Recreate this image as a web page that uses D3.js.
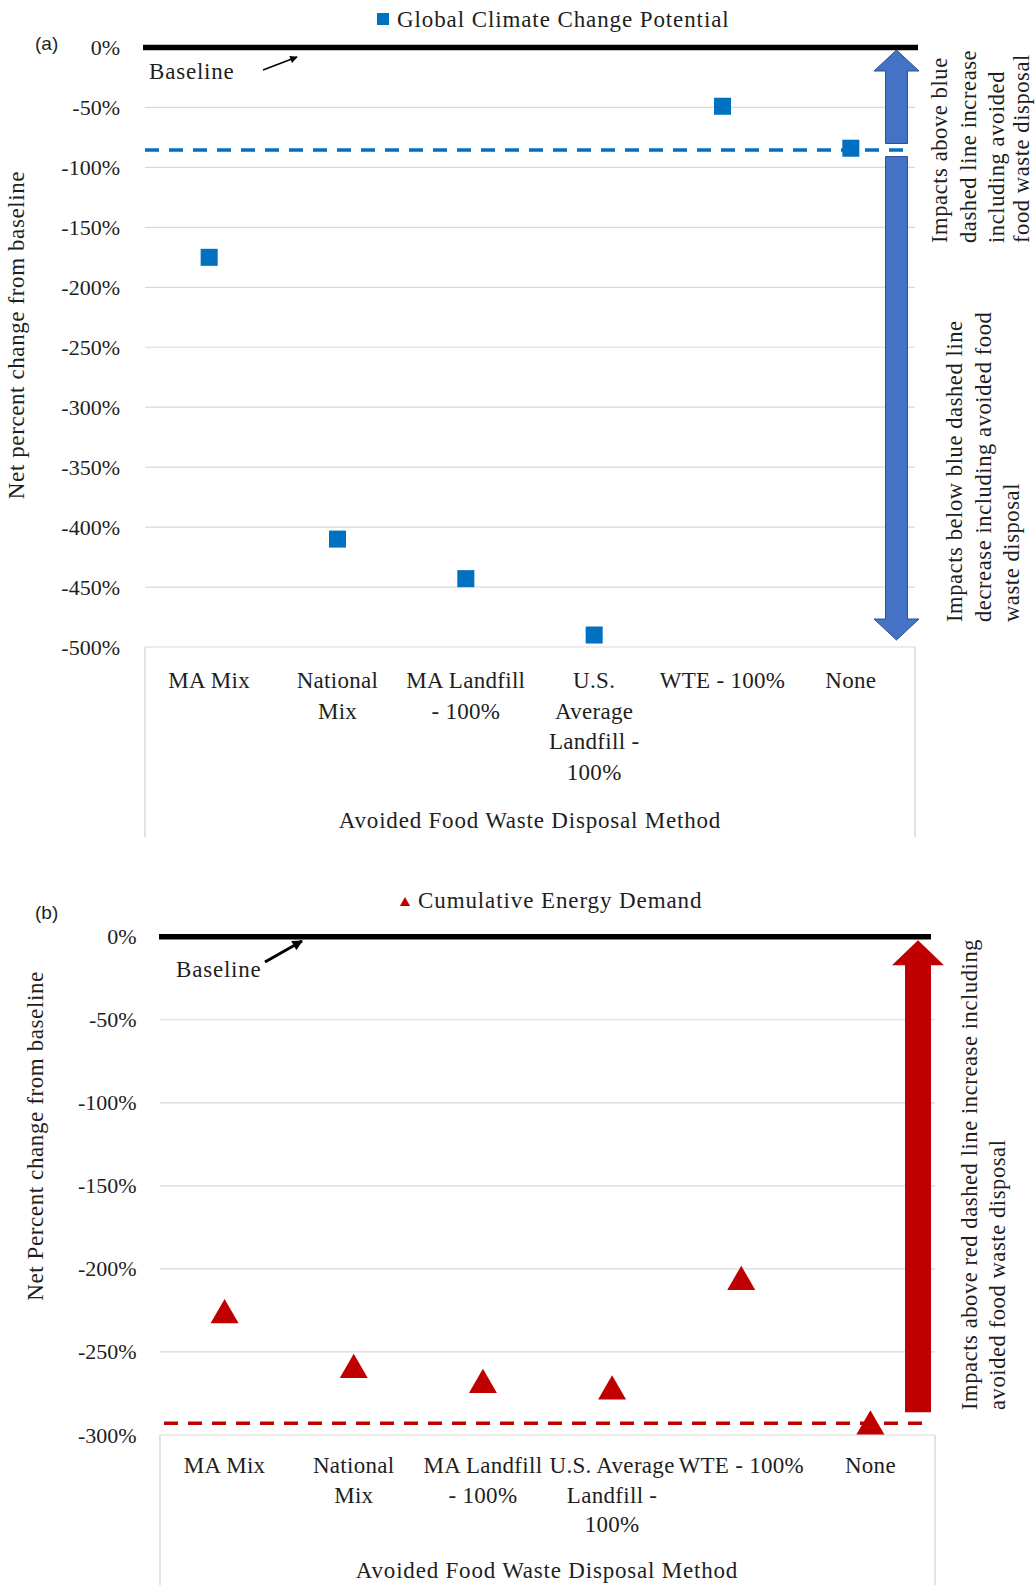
<!DOCTYPE html>
<html>
<head>
<meta charset="utf-8">
<script src="https://cdn.jsdelivr.net/npm/d3@7"></script>
<style>
  body { margin: 0; background: #fff; }
  text { font-family: "Liberation Serif", "Times New Roman", serif; fill: #1e1e1e; }
</style>
</head>
<body>
<div id="chart"></div>
<script>
// categories (line breaks as shown on the axis)
const gccCategories = [["MA Mix"], ["National", "Mix"], ["MA Landfill", "- 100%"], ["U.S.", "Average", "Landfill -", "100%"], ["WTE - 100%"], ["None"]];
const cedCategories = [["MA Mix"], ["National", "Mix"], ["MA Landfill", "- 100%"], ["U.S. Average", "Landfill -", "100%"], ["WTE - 100%"], ["None"]];

// net percent change from baseline
const gccValues = [-175, -410, -443, -490, -49, -84];
const cedValues = [-226, -259, -268, -272, -206, -293];

// dashed reference lines (no avoided disposal)
const gccDashed = -85.5;
const cedDashed = -293;

const gccTicks = [0, -50, -100, -150, -200, -250, -300, -350, -400, -450, -500];
const cedTicks = [0, -50, -100, -150, -200, -250, -300];

const gccUpText = ["Impacts above blue", "dashed line  increase", "including avoided", "food waste disposal"];
const gccDownText = ["Impacts below blue dashed line", "decrease including avoided food", "waste disposal"];
const cedUpText = ["Impacts above red dashed line  increase including", "avoided food waste disposal"];

const svg = d3.select('#chart')
    .append('svg')
    .attr('width', 1036)
    .attr('height', 1585);

const defs = svg.append('defs');
[['thin', 7, 5], ['thick', 4.5, 3.5]].forEach(([id, w, h]) => {
    defs.append('marker')
        .attr('id', 'head-' + id)
        .attr('viewBox', '0 0 10 10')
        .attr('refX', 9).attr('refY', 5)
        .attr('markerUnits', 'strokeWidth')
        .attr('markerWidth', w).attr('markerHeight', h)
        .attr('orient', 'auto')
        .append('path')
        .attr('d', 'M0,0 L10,5 L0,10 Z')
        .attr('fill', '#000');
});

function arrowPath(cx, tip, base, end, shaftW, headW) {
    // tip -> head base -> shaft end, works up or down
    return d3.line()([
        [cx, tip], [cx + headW / 2, base], [cx + shaftW / 2, base], [cx + shaftW / 2, end],
        [cx - shaftW / 2, end], [cx - shaftW / 2, base], [cx - headW / 2, base]
    ]) + 'Z';
}

function rotatedLines(g, lines, xs, yStart) {
    lines.forEach((t, i) => {
        g.append('text')
            .attr('transform', `translate(${xs[i]},${yStart}) rotate(-90)`)
            .attr('text-anchor', 'start')
            .style('font-size', '22.5px')
            .style('letter-spacing', '0.6px')
            .text(t);
    });
}

function drawPanel(p) {
    const g = svg.append('g');
    const keys = p.categories.map(c => c.join(' '));

    const x = d3.scaleBand().domain(keys).range([p.left, p.right]);
    const y = d3.scaleLinear().domain([p.ticks[p.ticks.length - 1], 0]).range([p.bottom, p.top]);

    // gridlines
    g.append('g')
        .selectAll('line')
        .data(p.ticks.filter(t => t !== 0))
        .join('line')
        .attr('x1', p.left).attr('x2', p.right)
        .attr('y1', d => y(d)).attr('y2', d => y(d))
        .attr('stroke', '#d9d9d9')
        .attr('stroke-width', 1.2);

    // frame around the category area
    [p.left, p.right].forEach(xx => {
        g.append('line')
            .attr('x1', xx).attr('x2', xx)
            .attr('y1', y(p.ticks[p.ticks.length - 1])).attr('y2', p.frameBottom)
            .attr('stroke', '#d9d9d9').attr('stroke-width', 1.5);
    });

    // y tick labels
    const yAxis = g.append('g')
        .attr('transform', `translate(${p.tickX},0)`)
        .call(d3.axisLeft(y).tickValues(p.ticks).tickSize(0).tickPadding(0).tickFormat(d => d + '%'));
    yAxis.select('.domain').remove();
    yAxis.selectAll('text')
        .style('font-family', '"Liberation Serif", serif')
        .style('font-size', '22px')
        .attr('fill', '#1e1e1e');

    // category labels
    const cat = g.append('g')
        .selectAll('text')
        .data(p.categories)
        .join('text')
        .attr('text-anchor', 'middle')
        .style('font-size', '23px')
        .style('letter-spacing', '0.3px');
    cat.selectAll('tspan')
        .data((d, i) => d.map(line => ({ line, key: keys[i] })))
        .join('tspan')
        .attr('x', d => x(d.key) + x.bandwidth() / 2)
        .attr('y', (d, j) => y(p.ticks[p.ticks.length - 1]) + p.catOffset + j * p.catLine)
        .text(d => d.line);

    // x axis title
    g.append('text')
        .attr('x', p.xTitle[0]).attr('y', p.xTitle[1])
        .attr('text-anchor', 'middle')
        .style('font-size', '23px')
        .style('letter-spacing', '0.8px')
        .text('Avoided Food Waste Disposal Method');

    // y axis title
    g.append('text')
        .attr('transform', `translate(${p.yTitle[0]},${p.yTitle[1]}) rotate(-90)`)
        .attr('text-anchor', 'middle')
        .style('font-size', '23px')
        .style('letter-spacing', '0.6px')
        .text(p.yTitleText);

    // arrows (drawn before the dashed line so the dash sits on top)
    const c = p.arrow;
    g.append('path')
        .attr('d', arrowPath(c.cx, y(0) + c.tipGap, y(0) + c.tipGap + c.headLen, y(p.dashed) - c.gap, c.shaftW, c.headW))
        .attr('fill', p.arrowFill)
        .attr('stroke', p.arrowStroke)
        .attr('stroke-width', p.arrowStroke === 'none' ? 0 : 1);
    if (c.down) {
        const tip = y(p.ticks[p.ticks.length - 1]) - 7;
        g.append('path')
            .attr('d', arrowPath(c.cx, tip, tip - c.headLen, y(p.dashed) + c.gap, c.shaftW, c.headW))
            .attr('fill', p.arrowFill)
            .attr('stroke', p.arrowStroke)
            .attr('stroke-width', 1);
    }

    // baseline at 0%
    g.append('line')
        .attr('x1', p.baseX[0]).attr('x2', p.baseX[1])
        .attr('y1', y(0)).attr('y2', y(0))
        .attr('stroke', '#000')
        .attr('stroke-width', 5.5);

    // dashed reference
    g.append('line')
        .attr('x1', p.dashX[0]).attr('x2', p.dashX[1])
        .attr('y1', y(p.dashed)).attr('y2', y(p.dashed))
        .attr('stroke', p.color)
        .attr('stroke-width', 3.5)
        .attr('stroke-dasharray', '14 10');

    // markers
    const sym = d3.symbol().type(p.symbol).size(p.symbolSize);
    g.append('g')
        .selectAll('path')
        .data(p.values)
        .join('path')
        .attr('transform', (d, i) => `translate(${x(keys[i]) + x.bandwidth() / 2},${y(d) + p.symbolShift})`)
        .attr('d', sym)
        .attr('fill', p.color);

    // legend
    g.append('path')
        .attr('transform', `translate(${p.legend[0]},${p.legend[1]})`)
        .attr('d', d3.symbol().type(p.symbol).size(p.legendSize))
        .attr('fill', p.color);
    g.append('text')
        .attr('x', p.legend[0] + p.legendGap).attr('y', p.legend[2])
        .style('font-size', '23px')
        .style('letter-spacing', '0.9px')
        .text(p.legendText);

    // panel tag
    g.append('text')
        .attr('x', 35).attr('y', p.tagY)
        .style('font-family', '"Liberation Sans", Arial, sans-serif')
        .style('font-size', '19px')
        .text(p.tag);

    // "Baseline" pointer
    g.append('text')
        .attr('x', p.baseLabel[0]).attr('y', p.baseLabel[1])
        .style('font-size', '23px')
        .style('letter-spacing', '0.8px')
        .text('Baseline');
    g.append('line')
        .attr('x1', p.pointer[0]).attr('y1', p.pointer[1])
        .attr('x2', p.pointer[2]).attr('y2', p.pointer[3])
        .attr('stroke', '#000')
        .attr('stroke-width', p.pointerW)
        .attr('marker-end', `url(#head-${p.pointerW > 2 ? 'thick' : 'thin'})`);

    return g;
}

const gA = drawPanel({
    categories: gccCategories, values: gccValues, dashed: gccDashed, ticks: gccTicks,
    left: 145, right: 915, top: 47.5, bottom: 647, tickX: 120, frameBottom: 837,
    catOffset: 41, catLine: 30.5, xTitle: [530, 828], yTitle: [24, 335],
    yTitleText: 'Net percent change from baseline',
    color: '#0070c0', symbol: d3.symbolSquare, symbolSize: 290, symbolShift: 0,
    legend: [383, 19, 27], legendSize: 144, legendGap: 14, legendText: 'Global Climate Change Potential',
    tag: '(a)', tagY: 50,
    baseX: [143, 918], dashX: [145, 907],
    baseLabel: [149, 79], pointer: [263, 70, 297, 57], pointerW: 1.5,
    arrowFill: '#4472c4', arrowStroke: '#2f528f',
    arrow: { cx: 896.5, shaftW: 22, headW: 45, headLen: 21, tipGap: 2.5, gap: 6.5, down: true }
});
rotatedLines(gA, gccUpText, [947, 976, 1004, 1029], 243);
rotatedLines(gA, gccDownText, [962, 991, 1019], 622);

const gB = drawPanel({
    categories: cedCategories, values: cedValues, dashed: cedDashed, ticks: cedTicks,
    left: 160, right: 935, top: 936.7, bottom: 1435, tickX: 136.7, frameBottom: 1585,
    catOffset: 38, catLine: 29.5, xTitle: [547, 1578], yTitle: [43, 1136],
    yTitleText: 'Net Percent change from baseline',
    color: '#c00000', symbol: d3.symbolTriangle, symbolSize: 340, symbolShift: 3,
    legend: [405, 903, 908], legendSize: 45, legendGap: 13, legendText: 'Cumulative Energy Demand',
    tag: '(b)', tagY: 919,
    baseX: [159, 931], dashX: [164, 924],
    baseLabel: [176, 977], pointer: [265, 962, 302, 941], pointerW: 3,
    arrowFill: '#c00000', arrowStroke: 'none',
    arrow: { cx: 918, shaftW: 26, headW: 52, headLen: 25, tipGap: 3.5, gap: 11, down: false }
});
rotatedLines(gB, cedUpText, [977, 1005], 1410);
</script>
</body>
</html>
